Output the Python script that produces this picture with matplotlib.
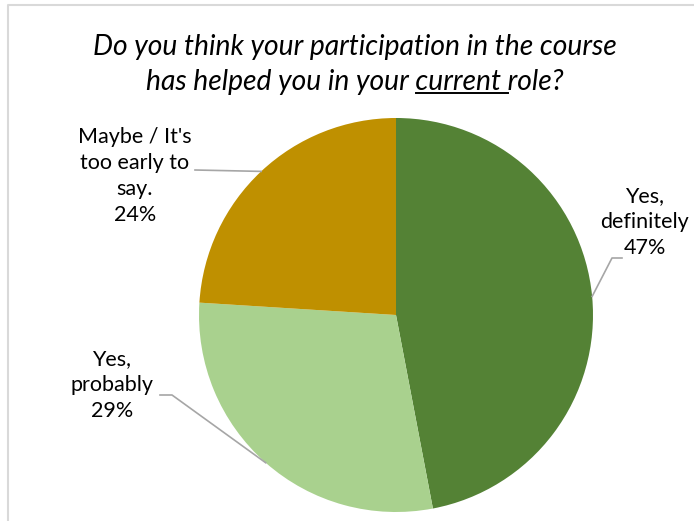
"""Pie chart: has the course helped in the current role (survey answers)."""

import matplotlib
matplotlib.use("Agg")
import matplotlib.pyplot as plt
import numpy as np

answers = ["Yes,\ndefinitely", "Yes,\nprobably", "Maybe / It's\ntoo early to\nsay."]
shares = [47, 29, 24]
colors = ["#548235", "#A9D18E", "#BF9000"]

W, H = 694, 521
plt.rcParams["font.family"] = ["Lato", "DejaVu Sans"]

fig = plt.figure(figsize=(W / 100, H / 100), dpi=100)
ax = fig.add_axes([0, 0, 1, 1])

cx, cy, r = 396, H - 315, 197
wedges, _ = ax.pie(shares, colors=colors, startangle=90, counterclock=False,
                   center=(cx, cy), radius=r, frame=True,
                   wedgeprops=dict(linewidth=0))
ax.set_xlim(0, W)
ax.set_ylim(0, H)
ax.set_aspect("equal")
ax.axis("off")

# chart-area border (left and top edges visible)
ax.plot([8, 8, W + 5], [-5, H - 5, H - 5], color="#D9D9D9", lw=1.5,
        clip_on=False)

# labels and leader lines (elbow at the text, end at wedge mid-angle)
label_pos = [(645, H - 222), (112, H - 385), (135, H - 176)]
elbows = [[(622, H - 258), (612, H - 258)],
          [(160, H - 395), (172, H - 395)],
          [(195, H - 170)]]
for w, txt, pct, (lx, ly), pts in zip(wedges, answers, shares, label_pos, elbows):
    ax.text(lx, ly, f"{txt}\n{pct}%", ha="center", va="center",
            fontsize=15.5, linespacing=1.38, color="black")
    mid = np.deg2rad((w.theta1 + w.theta2) / 2)
    ex, ey = cx + r * np.cos(mid), cy + r * np.sin(mid)
    xs = [p[0] for p in pts] + [ex]
    ys = [p[1] for p in pts] + [ey]
    ax.plot(xs, ys, color="#A6A6A6", lw=1.2)

# title, with "current" underlined
tsize = 20.3
title_kw = dict(fontsize=tsize, style="italic", ha="center", va="center")
ax.text(355, H - 47, "Do you think your participation in the course", **title_kw)
line2 = "has helped you in your current role?"
t2 = ax.text(355, H - 82, line2, **title_kw)
renderer = fig.canvas.get_renderer()
full = t2.get_window_extent(renderer)
pre = ax.text(0, 0, "has helped you in your ", fontsize=tsize, style="italic")
word = ax.text(0, 0, "current ", fontsize=tsize, style="italic")
pw = pre.get_window_extent(renderer).width
ww = word.get_window_extent(renderer).width
pre.remove()
word.remove()
ux0 = full.x0 + pw
uy = full.y0 + 2
ax.plot([ux0, ux0 + ww], [uy, uy], color="black", lw=1.4)

fig.savefig("out.png", dpi=100)
